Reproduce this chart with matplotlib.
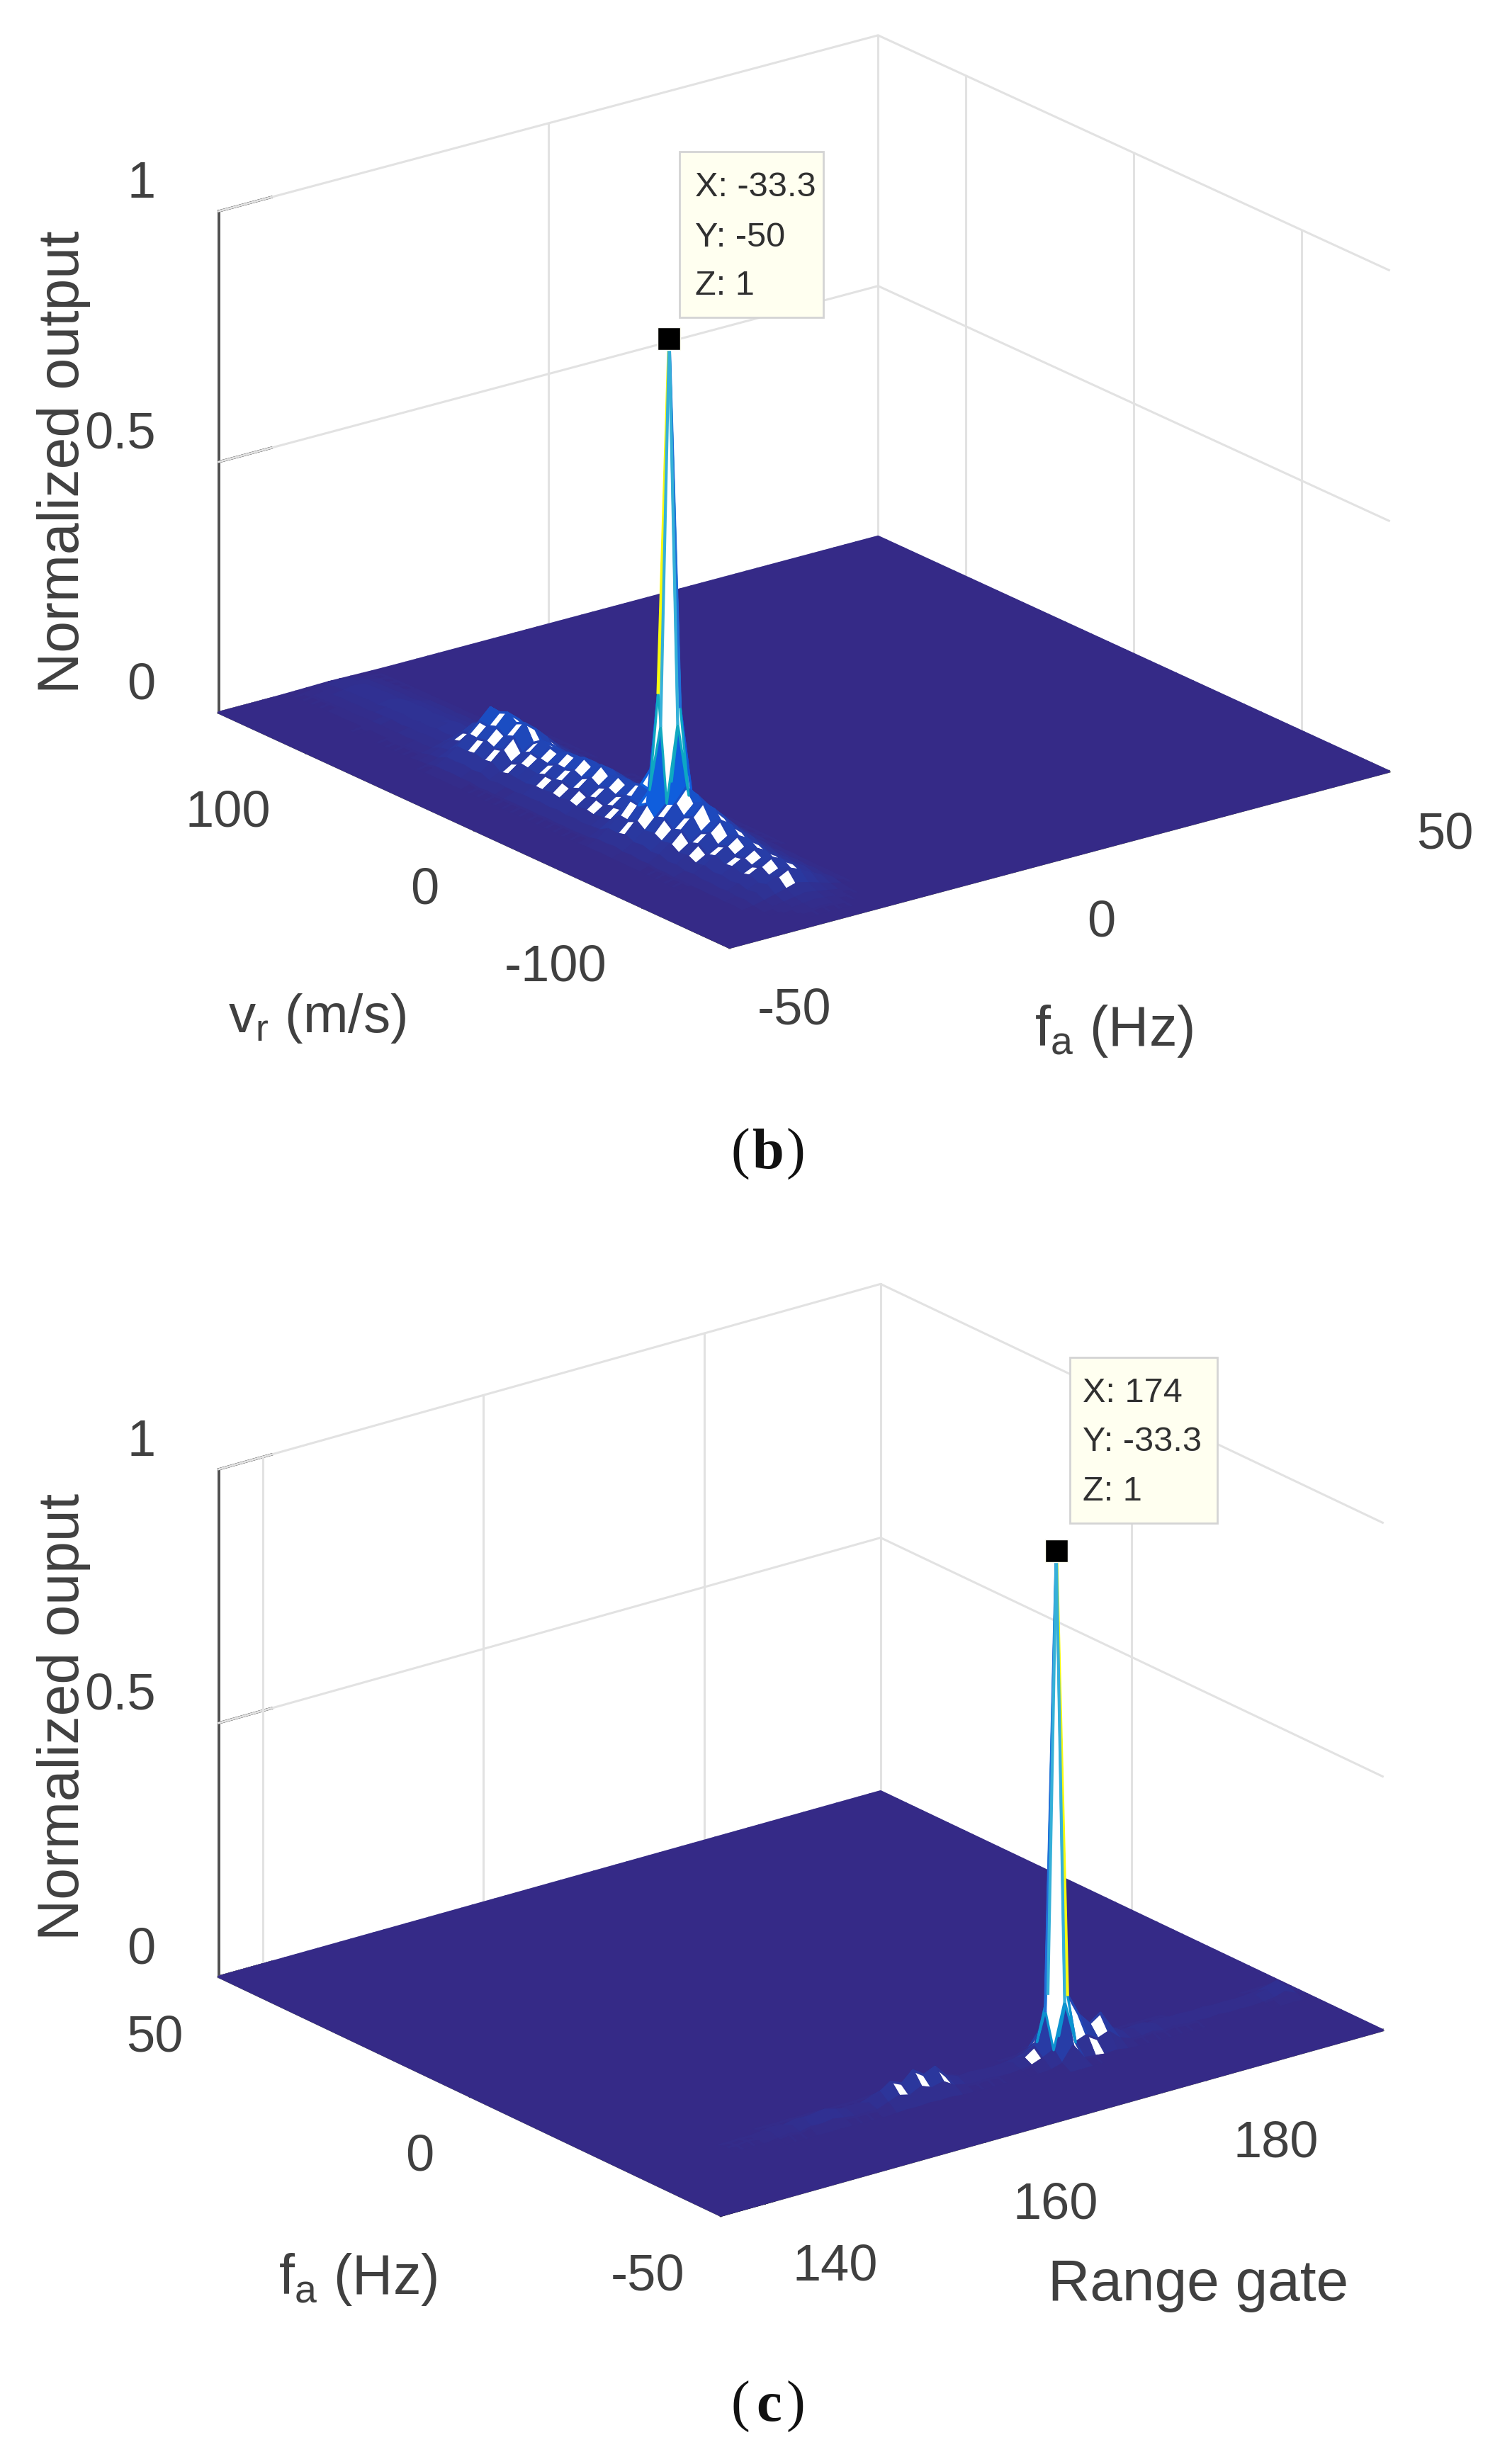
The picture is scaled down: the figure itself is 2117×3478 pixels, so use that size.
import numpy as np
import matplotlib
matplotlib.use('Agg')
from matplotlib import pyplot as plt
from matplotlib.colors import LinearSegmentedColormap, to_rgba
from mpl_toolkits.mplot3d import proj3d

plt.rcParams['font.family'] = ['Liberation Sans', 'DejaVu Sans']
plt.rcParams['mathtext.default'] = 'regular'

# panel b: heights along the ridge at fa = -33.3, from vr = -152 up to +152
ridge_b = [0, .004, .008, .012, .018, .03, .052, .044, .058, .05, .06, .056, .07, .062, .085, .075, .105, .095, .12, .11,
           .145, .125, .13, .085, .08, .07, .08, .072, .086, .075, .085, .078, .08, .07, .075, .08, .068, .1, .092, .105,
           .098, .1, .06, .052, .03, .026, .028, .024, .026, .022, .026, .024, .024, .02, .022, .02, .02, .018, .016, .012, .002]
cross_b = [.03, .1, .22, .38, .58, .78, 1, .82, .6, .38, .2, .08, .02]
spike_b = [[0, .02, .08, .02, 0],
           [.02, .08, .24, .08, .02],
           [.08, .3, 1, .26, .08],
           [.02, .08, .22, .08, .02],
           [0, .02, .08, .02, 0]]

# panel c: heights along the ridge at fa = -33.3, from gate 136 up to 196
ridge_c = [0, 0, .003, 0, .004, .002, .005, .004, .006, .005, .008, .006, .012, .018, .012, .022, .02, .026, .02, .014,
           .016, .014, .03, .045, .035, .055, .04, .05, .026, .018, .012, .016, .012, .01, .014, .02, .035, .02, .045, .06,
           .075, .05, .065, .03, .016, .014, .02, .012, .018, .012, .014, .01, .014, .01, .012, .01, .014, .018, .03, .012, 0]
cross_c = [.1, .55, 1, .45, .08]
spike_c = [[0, .01, .04, .01, 0],
           [.01, .03, .12, .03, .01],
           [.03, .1, 1, .12, .03],
           [.01, .03, .12, .03, .01],
           [0, .01, .04, .01, 0]]

fa_lim = [-50, 50]
vr_lim = [-152, 152]
gate_lim = [136, 196]
fa_ticks = [-50, 0, 50]
vr_ticks = [-100, 0, 100]
gate_ticks = [140, 160, 180]
z_ticks = [0, 0.5, 1]
tip_b = ['X: -33.3', 'Y: -50', 'Z: 1']
tip_c = ['X: 174', 'Y: -33.3', 'Z: 1']

parula = LinearSegmentedColormap.from_list('parula', [
    '#352a87', '#0f5cdd', '#1481d6', '#06a4ca', '#2eb7a4', '#87bf77', '#d1bb59', '#fec832', '#f9fb0e'])

W, H = 2117, 3478
S = 2.205
fig = plt.figure(figsize=(W / 100, H / 100), dpi=100)


def pos(x, y):
    return x * S / W, 1 - y * S / H


def fit_axes(ax, p0, p1, t0, t1):
    # scale and move the square axes so two box corners land on target pixels
    def measure():
        ax.apply_aspect()
        xs, ys, _ = proj3d.proj_transform(*np.array([p0, p1]).T, ax.get_proj())
        return ax.transData.transform(np.c_[xs, ys])
    t0 = np.array([t0[0] * S, H - t0[1] * S])
    t1 = np.array([t1[0] * S, H - t1[1] * S])
    side = 1700.0
    ax.set_position([0.1, 0.1, side / W, side / H])
    for i in range(4):
        a, b = measure()
        side *= np.linalg.norm(t1 - t0) / np.linalg.norm(b - a)
        l, bt = ax.get_position().x0, ax.get_position().y0
        ax.set_position([l, bt, side / W, side / H])
        a, b = measure()
        shift = (t0 + t1) / 2 - (a + b) / 2
        ax.set_position([l + shift[0] / W, bt + shift[1] / H, side / W, side / H])


def make_panel(x_vals, y_vals, z, x_ticks, y_ticks, walls, view, aspect, peak, yellow_step, thr, corners):
    ax = fig.add_axes([0.1, 0.1, 0.5, 0.3], projection='3d', proj_type='ortho', computed_zorder=False)
    ax.patch.set_visible(False)
    ax.view_init(elev=view[0], azim=view[1])
    ax.set_box_aspect(aspect)
    ax.set_xlim(x_vals[0], x_vals[-1])
    ax.set_ylim(y_vals[0], y_vals[-1])
    ax.set_zlim(0, 1)
    ax.grid(False)
    for axis in (ax.xaxis, ax.yaxis, ax.zaxis):
        axis.set_pane_color((1, 1, 1, 0))
        axis.pane.set_edgecolor((1, 1, 1, 0))
        axis.line.set_color('#505050')
        axis.line.set_linewidth(2.8)
        axis._axinfo['tick']['inward_factor'] = 0
        axis._axinfo['tick']['outward_factor'] = 1.0
        axis._axinfo['tick']['linewidth'] = {True: 2.4, False: 1}
        axis._axinfo['tick']['color'] = '#505050'
    ax.set_xticks(x_ticks)
    ax.set_yticks(y_ticks)
    ax.set_zticks(z_ticks)
    ax.set_xticklabels([str(t) for t in x_ticks], ha='left', color='#404040', fontsize=52)
    ax.set_yticklabels([str(t) for t in y_ticks], ha='right', color='#404040', fontsize=52)
    ax.set_zticklabels(['0', '0.5', '1'], ha='right', va='bottom', color='#404040', fontsize=52)
    ax.tick_params(pad=28)

    # light wall grid
    x0, x1, y0, y1 = x_vals[0], x_vals[-1], y_vals[0], y_vals[-1]
    grid = dict(color='#e2e2e2', lw=2.2, zorder=1)
    for t in z_ticks:
        ax.plot([x0, x1, x1], [y1, y1, y0], [t, t, t], **grid)
    for t in walls[0]:
        ax.plot([t, t], [y1, y1], [0, 1], **grid)
    for t in walls[1]:
        ax.plot([x1, x1], [t, t], [0, 1], **grid)

    r, c = peak
    X, Y = np.meshgrid(x_vals, y_vals)
    cell = (z[:-1, :-1] + z[1:, :-1] + z[:-1, 1:] + z[1:, 1:]) / 4
    rows, cols = np.indices(cell.shape)
    faces = np.zeros(z.shape + (4,))
    faces[...] = to_rgba('#352a87')
    faces[:-1, :-1][cell > 0.006] = parula(cell[cell > 0.006])
    faces[:-1, :-1][(cell > thr) & ((rows + cols) % 2 == 0)] = (1, 1, 1, 1)
    faces[r - 1:r + 1, c - 1:c + 1] = (1, 1, 1, 1)
    edges = parula(np.clip(cell, 0, 1)).reshape(-1, 4)
    ax.plot_surface(X, Y, z, rstride=1, cstride=1, facecolors=faces, edgecolor=edges,
                    linewidth=2.4, shade=False, zorder=2)

    # edges leaving the peak vertex
    spokes = [((r, c + yellow_step), '#f9fb0e', 3.5), ((r, c - yellow_step), '#1f6fd8', 3),
              ((r + 1, c), '#35b0d8', 3), ((r - 1, c), '#35b0d8', 3)]
    for (a, b), col, lw in spokes:
        ax.plot([x_vals[c], x_vals[b]], [y_vals[r], y_vals[a]], [z[r, c], z[a, b]], color=col, lw=lw, zorder=3)
    ax.plot([x_vals[c]], [y_vals[r]], [1], 's', color='black', mec='#fffff0', mew=1, ms=23, zorder=4)
    fit_axes(ax, *corners)
    return ax


def datatip(x0, y0, x1, y1, lines, left, line_y):
    fig.patches.append(plt.Rectangle(pos(x0, y1), (x1 - x0) * S / W, (y1 - y0) * S / H, transform=fig.transFigure,
                                     facecolor='#fffff0', edgecolor='#d4d4d4', lw=2, figure=fig, zorder=10))
    for s, y in zip(lines, line_y):
        fig.text(*pos(left, y), s, fontsize=35, color='#303030', va='center', ha='left', zorder=11)


def caption(letter, y):
    fig.text(*pos(480, y), '(', family='Liberation Serif', fontsize=58, va='center', ha='right', color='#111111')
    fig.text(*pos(492, y), letter, family='Liberation Serif', weight='bold', fontsize=58, va='center', ha='center', color='#111111')
    fig.text(*pos(503, y), ')', family='Liberation Serif', fontsize=58, va='center', ha='left', color='#111111')


# panel b
fa_b = np.linspace(fa_lim[0], fa_lim[1], 61)
vr_b = np.linspace(vr_lim[0], vr_lim[1], 61)
z_b = np.zeros((len(vr_b), len(fa_b)))
col_b = np.argmin(abs(fa_b + 33.3))
row_b = np.argmin(abs(vr_b + 50))
z_b[:, col_b - 6:col_b + 7] = np.outer(ridge_b, cross_b)
z_b[row_b - 2:row_b + 3, col_b - 2:col_b + 3] = np.maximum(z_b[row_b - 2:row_b + 3, col_b - 2:col_b + 3], spike_b)
make_panel(fa_b, vr_b, z_b, fa_ticks, vr_ticks, ([0, 50], vr_ticks), (20.5, -127.3), (528, 537, 341),
           (row_b, col_b), -1, 0.035, (((-50, 152, 0)), ((50, -152, 0)), (140, 456), (889, 494)))

# panel c
gate_c = np.linspace(gate_lim[0], gate_lim[1], 61)
fa_c = np.linspace(fa_lim[0], fa_lim[1], 61)
z_c = np.zeros((len(fa_c), len(gate_c)))
row_c = np.argmin(abs(fa_c + 33.3))
col_c = np.argmin(abs(gate_c - 174))
z_c[row_c - 2:row_c + 3, :] = np.outer(cross_c, ridge_c)
z_c[row_c - 2:row_c + 3, col_c - 2:col_c + 3] = np.maximum(z_c[row_c - 2:row_c + 3, col_c - 2:col_c + 3], spike_c)
make_panel(gate_c, fa_c, z_c, gate_ticks, fa_ticks, (gate_ticks, [0, 50]), (21.4, -127.5), (531, 525, 347),
           (row_c, col_c), 1, 0.02, ((136, 50, 0), (196, -50, 0), (140, 1266), (885, 1299)))

fig.text(*pos(41, 296), 'Normalized output', fontsize=58, rotation=90, va='center', ha='center', color='#404040')
fig.text(*pos(203, 652), r'v$_{r}$ (m/s)', fontsize=55, va='center', ha='center', color='#404040')
fig.text(*pos(713, 660), r'f$_{a}$ (Hz)', fontsize=57, va='center', ha='center', color='#404040')
fig.text(*pos(41, 1099), 'Normalized ouput', fontsize=58, rotation=90, va='center', ha='center', color='#404040')
fig.text(*pos(229, 1459), r'f$_{a}$ (Hz)', fontsize=57, va='center', ha='center', color='#404040')
fig.text(*pos(767, 1463), 'Range gate', fontsize=59, va='center', ha='center', color='#404040')

datatip(435, 97, 527, 203, tip_b, 445, [120, 152, 183])
datatip(685, 869, 779, 975, tip_c, 693, [892, 923, 955])
caption('b', 739)
caption('c', 1541)

fig.savefig('out.png', dpi=100)
